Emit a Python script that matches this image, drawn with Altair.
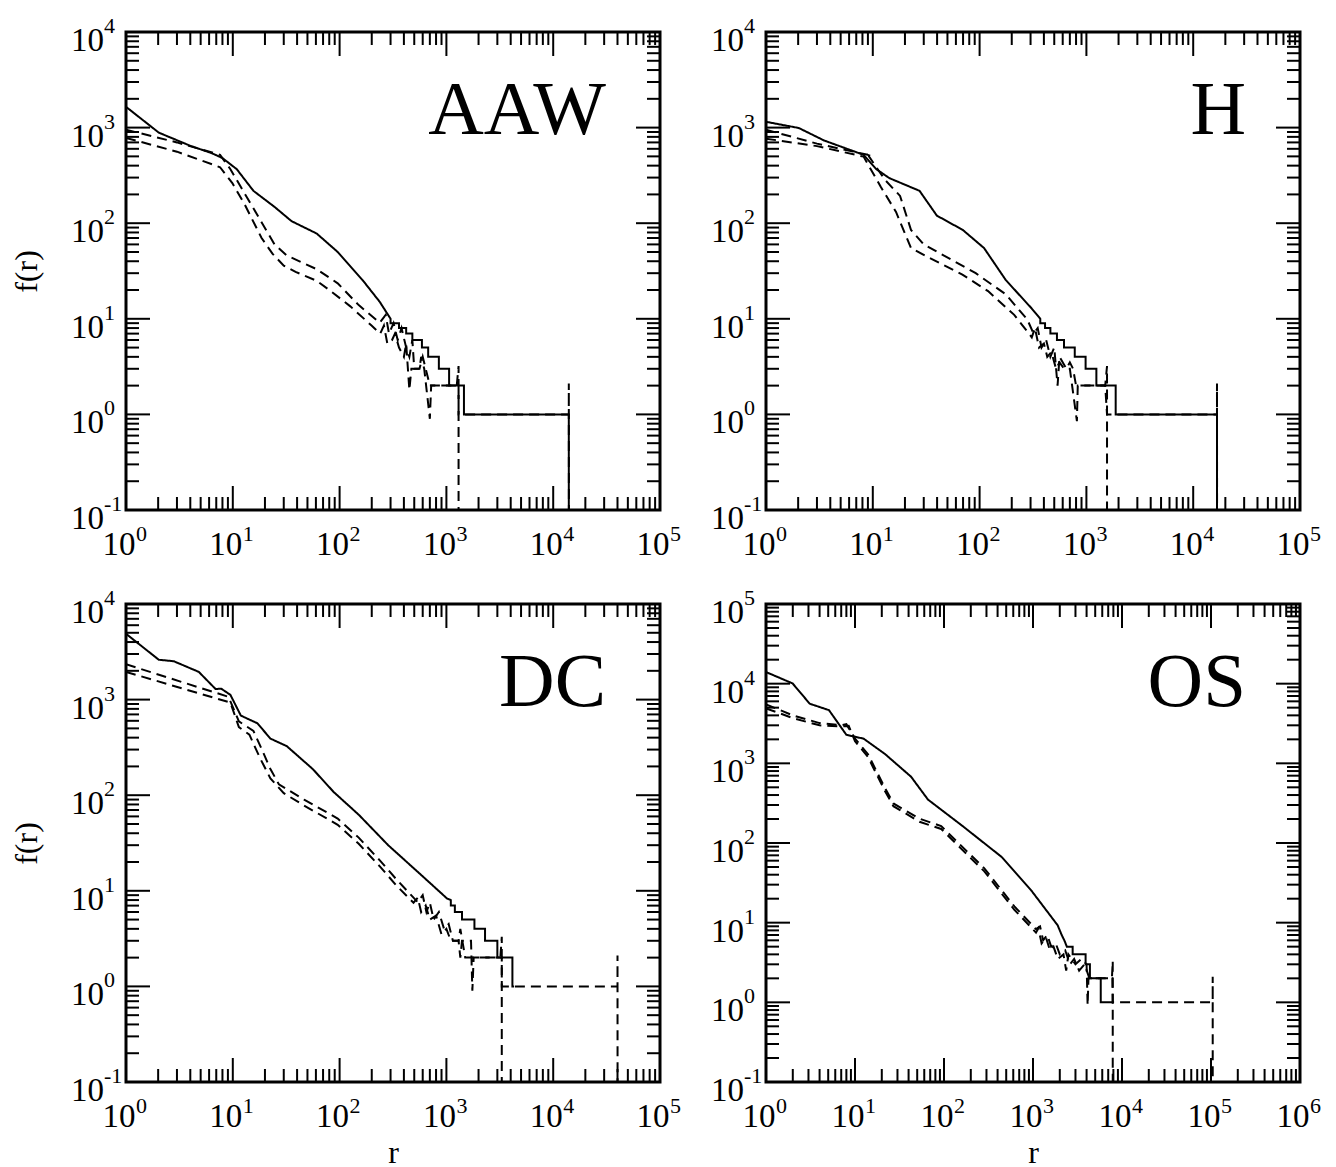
import altair as alt
import pandas as pd

FONT = "Liberation Serif"
W, H = 534, 478
MAJOR_LEN, MINOR_LEN = 24, 13

PANEL_NAMES = ["AAW", "H", "DC", "OS"]
X_EXPS = [[0, 1, 2, 3, 4, 5], [0, 1, 2, 3, 4, 5], [0, 1, 2, 3, 4, 5], [0, 1, 2, 3, 4, 5, 6]]
Y_EXPS = [[-1, 0, 1, 2, 3, 4], [-1, 0, 1, 2, 3, 4], [-1, 0, 1, 2, 3, 4], [-1, 0, 1, 2, 3, 4, 5]]
MINOR_MULT = [2, 3, 4, 5, 6, 7, 8, 9]
X_TITLE = "r"
Y_TITLE = "f(r)"

# ---------------- AAW ----------------
AAW_SOLID_R = [1, 2.03, 4.0, 6.3, 8, 10.9, 15.6, 24.6, 35.5, 61, 96, 166, 238, 300, 300, 360, 360, 420, 420, 480,
               480, 590, 590, 675, 675, 850, 850, 1060, 1060, 1460, 1460, 14000, 14000]
AAW_SOLID_F = [1650, 885, 645, 542, 480, 367, 218, 148, 105, 78, 50, 25, 15, 10, 9, 9, 8, 8, 7, 7,
               6, 6, 5, 5, 4, 4, 3, 3, 2, 2, 1, 1, 0.01]
AAW_D1_R = [1, 3, 7.6, 9.5, 11.9, 15.6, 20.5, 24.6, 32, 61, 96, 151, 238, 270, 290, 320, 350, 380, 420, 450,
            480, 500, 560, 600, 640, 700, 1300, 1300, 14000, 14000, 14050]
AAW_D1_F = [950, 700, 519, 367, 239, 143, 85, 60, 46, 33, 23.5, 13.9, 9.1, 11, 7, 9, 6, 8, 5, 4,
            6, 3, 3, 4, 3, 2, 2, 1, 1, 2.1, 0.01]
AAW_D2_R = [1, 3, 7.6, 9.9, 13, 18.6, 23.5, 30, 38.7, 61, 80, 126, 199, 240, 260, 280, 310, 330, 360, 400,
            420, 450, 470, 560, 580, 620, 700, 720, 1250, 1300, 1300]
AAW_D2_F = [780, 560, 385, 263, 155, 70, 48, 36, 31, 25, 20, 13.5, 8.5, 7, 8.5, 5.5, 6, 7, 5, 4,
            5.5, 1.8, 3, 3, 4, 3, 0.9, 2, 2, 3.2, 0.01]

# ---------------- H ----------------
H_SOLID_R = [1, 2.03, 3.5, 8.2, 10.8, 14.3, 27.4, 39.8, 69.6, 110, 176, 308, 370, 370, 410, 410, 460, 460, 530, 530,
             617, 617, 778, 778, 983, 983, 1240, 1240, 1880, 1880, 16700, 16700]
H_SOLID_F = [1150, 990, 733, 519, 367, 296, 218, 120, 85, 55, 25.4, 12.8, 10, 9, 9, 8, 8, 7, 7, 6,
             6, 5, 5, 4, 4, 3, 3, 2, 2, 1, 1, 0.01]
H_D1_R = [1, 3, 9, 9.5, 9.2, 13, 18, 22.8, 30, 92, 176, 280, 320, 350, 380, 420, 460, 500, 537, 560,
          650, 700, 750, 800, 1500, 1560, 16700, 16700, 16750]
H_D1_F = [950, 680, 519, 560, 500, 284, 193, 85, 60, 30, 18, 9.8, 7, 8, 5, 6, 4, 5, 2, 4,
          3, 3.5, 3, 2, 2, 1, 1, 2.1, 0.01]
H_D2_R = [1, 3, 8.2, 11.9, 16.5, 22.8, 33, 69, 120, 211, 308, 330, 360, 400, 430, 470, 520, 560, 620, 700,
          815, 830, 1500, 1560, 1560]
H_D2_F = [766, 640, 497, 239, 131, 55, 44, 29, 19.5, 11, 6.4, 8, 5, 5.5, 4, 4.5, 3, 3.5, 3, 3,
          0.85, 2, 2, 3.2, 0.01]

# ---------------- DC ----------------
DC_SOLID_R = [1, 2.03, 2.8, 4.8, 6.9, 7.8, 9.5, 11.9, 17, 22.5, 32, 56, 88, 151, 285, 590, 1015, 1100, 1100, 1200,
              1200, 1400, 1400, 1830, 1830, 2300, 2300, 3000, 3000, 4150, 4150, 4300]
DC_SOLID_F = [4880, 2610, 2520, 1950, 1290, 1300, 1120, 680, 565, 391, 326, 188, 108, 62.5, 30, 14.4, 8.3, 8, 7, 7,
              6, 6, 5, 5, 4, 4, 3, 3, 2, 2, 1, 1]
DC_D1_R = [1, 9.1, 11.4, 15.6, 18.8, 22.5, 27, 46.5, 96, 151, 238, 342, 540, 600, 650, 700, 760, 850, 950, 1050,
           1150, 1300, 1350, 1500, 3300, 3300, 40000, 40000, 40100]
DC_D1_F = [2340, 1070, 592, 471, 297, 188, 130, 90, 57, 36, 20.8, 13.1, 7.6, 9, 6, 7.5, 5, 6, 4, 4.5,
           3, 3, 4, 2, 2, 1, 1, 2.1, 0.01]
DC_D2_R = [1, 9.5, 11.4, 14.3, 17.9, 22.5, 30, 46.5, 96, 151, 238, 342, 492, 540, 580, 640, 700, 800, 900, 1000,
           1100, 1300, 1350, 1400, 1700, 1750, 1800, 3200, 3300, 3300]
DC_D2_F = [1950, 930, 515, 430, 247, 150, 105, 78, 49, 31, 18, 11.3, 7.5, 8.5, 6, 7, 5, 5.5, 3.5, 4,
           3, 3, 2, 3, 3, 0.9, 2, 2, 3.3, 0.01]

# ---------------- OS ----------------
OS_SOLID_R = [1, 1.99, 3.1, 5.1, 8, 12.5, 21.7, 42.6, 66, 162, 443, 966, 1890, 2000, 2100, 2250, 2400, 2790, 2790,
              3900, 3900, 4360, 4360, 5770, 5770, 7870]
OS_SOLID_F = [14000, 10070, 5600, 4650, 2280, 2040, 1310, 680, 351, 163, 67, 25, 9.3, 8, 7, 6, 5, 5, 4,
              4, 3, 3, 2, 2, 1, 1]
OS_D1_R = [1, 2, 4, 7, 8, 10, 14, 21.7, 27, 53, 93, 284, 618, 1080, 1200, 1300, 1450, 1600, 1800, 2000,
           2300, 2600, 2900, 3300, 3800, 4300, 7800, 7870, 104500, 104500, 104600]
OS_D1_F = [5500, 4000, 3200, 3000, 3100, 2040, 1300, 490, 314, 202, 163, 48, 16, 8.3, 9, 6, 7, 5, 5.5, 4,
           4.5, 3, 3.5, 2.5, 3, 2, 2, 1, 1, 2.1, 0.01]
OS_D2_R = [1, 2, 4, 7, 8.5, 10, 14, 21.7, 27, 53, 93, 284, 618, 1080, 1150, 1250, 1400, 1550, 1700, 1900,
           2200, 2360, 2500, 3000, 3500, 4000, 4110, 4200, 7700, 7870, 7870]
OS_D2_F = [4900, 3700, 3000, 2900, 2950, 1900, 1200, 450, 290, 185, 150, 44, 14.5, 7.5, 8.5, 5.5, 6.5, 4.5, 5, 3.5,
           4, 2.5, 4, 3, 3.5, 3, 0.92, 2, 2, 3.3, 0.01]

SERIES = [
    [(AAW_SOLID_R, AAW_SOLID_F), (AAW_D1_R, AAW_D1_F), (AAW_D2_R, AAW_D2_F)],
    [(H_SOLID_R, H_SOLID_F), (H_D1_R, H_D1_F), (H_D2_R, H_D2_F)],
    [(DC_SOLID_R, DC_SOLID_F), (DC_D1_R, DC_D1_F), (DC_D2_R, DC_D2_F)],
    [(OS_SOLID_R, OS_SOLID_F), (OS_D1_R, OS_D1_F), (OS_D2_R, OS_D2_F)],
]
SERIES_NAMES = ["solid", "d1", "d2"]


def make_panel(k):
    xe, ye = X_EXPS[k], Y_EXPS[k]
    xs = alt.Scale(type="log", domain=[10.0 ** xe[0], 10.0 ** xe[-1]], nice=False)
    ys = alt.Scale(type="log", domain=[10.0 ** ye[0], 10.0 ** ye[-1]], nice=False)
    title_style = dict(labels=False, ticks=False, domain=False, grid=False, titleFont=FONT,
                       titleFontSize=32, titleFontWeight="normal", titleColor="black")
    xaxis = alt.Axis(title=X_TITLE, titlePadding=55, **title_style) if k >= 2 else None
    yaxis = alt.Axis(title=Y_TITLE, titlePadding=83, **title_style) if k % 2 == 0 else None

    rows = []
    for name, (rr, ff) in zip(SERIES_NAMES, SERIES[k]):
        for i, (r, f) in enumerate(zip(rr, ff)):
            rows.append({"s": name, "i": i, "r": r, "f": f})
    df = pd.DataFrame(rows)

    lines = alt.Chart(df).mark_line(clip=True, strokeWidth=2, color="black").encode(
        x=alt.X("r:Q", scale=xs, axis=xaxis),
        y=alt.Y("f:Q", scale=ys, axis=yaxis),
        order=alt.Order("i:Q"),
        strokeDash=alt.StrokeDash("s:N", scale=alt.Scale(domain=SERIES_NAMES,
                                                          range=[[1, 0], [10, 6], [10, 6]]), legend=None),
    )

    xmaj = pd.DataFrame({"v": [10.0 ** e for e in xe]})
    xmin = pd.DataFrame({"v": [m * 10.0 ** e for e in xe[:-1] for m in MINOR_MULT]})
    ymaj = pd.DataFrame({"v": [10.0 ** e for e in ye]})
    ymin = pd.DataFrame({"v": [m * 10.0 ** e for e in ye[:-1] for m in MINOR_MULT]})

    def vrules(d, y0, y1):
        return alt.Chart(d).mark_rule(color="black", strokeWidth=2).encode(
            x=alt.X("v:Q", scale=xs, axis=xaxis), y=alt.value(y0), y2=alt.value(y1))

    def hrules(d, x0, x1):
        return alt.Chart(d).mark_rule(color="black", strokeWidth=2).encode(
            y=alt.Y("v:Q", scale=ys, axis=yaxis), x=alt.value(x0), x2=alt.value(x1))

    ticks = [
        vrules(xmaj, H, H - MAJOR_LEN), vrules(xmin, H, H - MINOR_LEN),
        vrules(xmaj, 0, MAJOR_LEN), vrules(xmin, 0, MINOR_LEN),
        hrules(ymaj, 0, MAJOR_LEN), hrules(ymin, 0, MINOR_LEN),
        hrules(ymaj, W, W - MAJOR_LEN), hrules(ymin, W, W - MINOR_LEN),
    ]

    xlab = pd.DataFrame({"v": [10.0 ** e for e in xe], "e": [str(e) for e in xe]})
    ylab = pd.DataFrame({"v": [10.0 ** e for e in ye], "e": [str(e) for e in ye]})

    xbase = alt.Chart(xlab).mark_text(font=FONT, fontSize=33, align="center", baseline="alphabetic",
                                      dx=-7, color="black").encode(
        x=alt.X("v:Q", scale=xs, axis=xaxis), y=alt.value(H + 45), text=alt.value("10"))
    xsup = alt.Chart(xlab).mark_text(font=FONT, fontSize=22, align="left", baseline="alphabetic",
                                     dx=10, color="black").encode(
        x=alt.X("v:Q", scale=xs, axis=xaxis), y=alt.value(H + 31), text=alt.Text("e:N"))
    ybase = alt.Chart(ylab).mark_text(font=FONT, fontSize=33, align="right", baseline="alphabetic",
                                      dy=19, color="black").encode(
        y=alt.Y("v:Q", scale=ys, axis=yaxis), x=alt.value(-22), text=alt.value("10"))
    ysup = alt.Chart(ylab).mark_text(font=FONT, fontSize=22, align="left", baseline="alphabetic",
                                     dy=1, color="black").encode(
        y=alt.Y("v:Q", scale=ys, axis=yaxis), x=alt.value(-22), text=alt.Text("e:N"))

    label = alt.Chart(pd.DataFrame({"t": [PANEL_NAMES[k]]})).mark_text(
        font=FONT, fontSize=77, align="right", baseline="alphabetic", color="black").encode(
        x=alt.value(W - 54), y=alt.value(102), text=alt.Text("t:N"))

    return alt.layer(lines, *ticks, xbase, xsup, ybase, ysup, label).properties(width=W, height=H)


panels = [make_panel(k) for k in range(4)]
chart = alt.concat(*panels, columns=2, spacing={"row": 94, "column": 106}, bounds="flush").properties(
    background="white", padding={"left": 0, "top": 5, "right": 5, "bottom": 5}).configure_view(
    stroke="black", strokeWidth=3)

chart.save("out.html", embed_options={"renderer": "svg", "actions": False})
